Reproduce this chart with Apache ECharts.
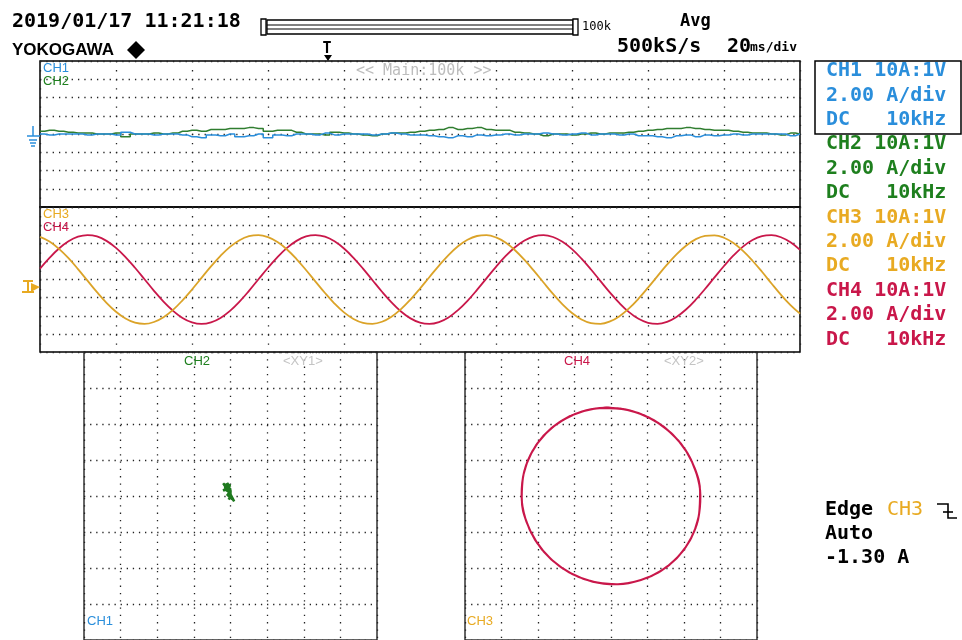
<!DOCTYPE html>
<html><head><meta charset="utf-8">
<script src="https://cdn.jsdelivr.net/npm/echarts@6/dist/echarts.min.js"></script>
<style>html,body{margin:0;padding:0;background:#fff}#c{width:962px;height:640px}</style>
</head><body><div id="c"></div>
<script>
// time axis (ms), 20 ms/div, 10 div
const timeMs = [0,2.5,5,7.5,10,12.5,15,17.5,20,22.5,25,27.5,30,32.5,35,37.5,40,42.5,45,47.5,50,52.5,55,57.5,60,62.5,65,67.5,70,72.5,75,77.5,80,82.5,85,87.5,90,92.5,95,97.5,100,102.5,105,107.5,110,112.5,115,117.5,120,122.5,125,127.5,130,132.5,135,137.5,140,142.5,145,147.5,150,152.5,155,157.5,160,162.5,165,167.5,170,172.5,175,177.5,180,182.5,185,187.5,190,192.5,195,197.5,200];
// channel currents (A)
const ch1A = [0.0,-0.1,0.0,0.0,0.0,-0.1,0.0,0.0,-0.1,0.2,0.0,0.0,-0.1,0.0,0.0,-0.1,-0.3,-0.4,-0.1,-0.2,0.0,-0.3,-0.2,0.0,-0.4,-0.1,-0.2,0.0,0.0,-0.1,0.1,-0.1,0.0,0.0,0.0,-0.1,0.0,0.1,0.0,-0.1,-0.1,-0.2,-0.3,-0.4,-0.2,-0.3,-0.1,-0.2,-0.1,0.0,-0.1,0.0,0.0,0.1,0.0,-0.1,0.0,0.1,-0.1,0.0,0.0,-0.1,0.0,-0.2,-0.2,-0.3,-0.4,-0.2,-0.1,-0.3,-0.1,-0.2,-0.1,0.0,-0.1,0.0,0.0,0.0,0.0,-0.2,0.0];
const ch2A = [0.3,0.4,0.3,0.2,0.1,0.1,0.0,0.0,0.1,-0.3,0.0,0.0,0.1,0.0,0.1,0.3,0.4,0.3,0.5,0.5,0.6,0.6,0.7,0.6,0.3,0.4,0.4,0.2,0.0,0.0,-0.1,0.2,0.1,0.0,-0.1,-0.2,0.0,0.1,0.1,0.2,0.3,0.4,0.5,0.7,0.5,0.6,0.7,0.5,0.4,0.4,0.2,0.1,0.0,-0.2,0.0,0.0,-0.1,0.0,0.1,0.0,0.1,0.1,0.2,0.3,0.4,0.5,0.6,0.6,0.7,0.6,0.5,0.4,0.4,0.3,0.2,0.1,0.1,0.0,-0.1,0.1,0.0];
const ch3A = [4.70,4.19,3.38,2.35,1.15,-0.13,-1.40,-2.57,-3.56,-4.31,-4.77,-4.90,-4.69,-4.16,-3.35,-2.30,-1.10,0.18,1.44,2.61,3.60,4.34,4.78,4.90,4.67,4.13,3.31,2.26,1.05,-0.23,-1.49,-2.65,-3.63,-4.36,-4.79,-4.89,-4.66,-4.10,-3.27,-2.21,-1.00,0.28,1.54,2.70,3.67,4.39,4.80,4.89,4.64,4.08,3.23,2.16,0.95,-0.33,-1.59,-2.74,-3.70,-4.41,-4.81,-4.89,-4.63,-4.05,-3.19,-2.12,-0.90,0.38,1.64,2.78,3.73,4.43,4.82,4.88,4.61,4.02,3.15,2.07,0.85,-0.44,-1.69,-2.82,-3.77];
const ch4A = [1.20,2.39,3.42,4.21,4.72,4.90,4.75,4.26,3.49,2.48,1.30,0.03,-1.25,-2.44,-3.45,-4.24,-4.73,-4.90,-4.73,-4.24,-3.46,-2.44,-1.25,0.03,1.30,2.48,3.49,4.26,4.75,4.90,4.72,4.21,3.42,2.39,1.20,-0.08,-1.35,-2.52,-3.53,-4.29,-4.76,-4.90,-4.70,-4.19,-3.38,-2.35,-1.15,0.13,1.40,2.57,3.56,4.31,4.77,4.90,4.69,4.16,3.35,2.30,1.10,-0.18,-1.44,-2.61,-3.60,-4.34,-4.78,-4.90,-4.67,-4.13,-3.31,-2.26,-1.05,0.23,1.49,2.65,3.63,4.36,4.79,4.89,4.66,4.10,3.27];

const chNames = ['CH1','CH2','CH3','CH4'];
const chSetup = ['10A:1V','2.00 A/div','DC   10kHz'];
const headerDate = '2019/01/17 11:21:18';
const triggerLines = ['Edge','CH3','Auto','-1.30 A'];

const C1='#2a8edb', C2='#1e7f1e', C3='#e8aa22', C4='#c9174a';
const chColors=[C1,C2,C3,C4];
const MONO='"DejaVu Sans Mono", monospace';
const SANS='"Liberation Sans", Arial, sans-serif';

const chart = echarts.init(document.getElementById('c'), null, {renderer:'canvas'});

function axis(type, gi, min, max, interval, dash){
  return {type:'value', gridIndex:gi, min, max, interval,
    axisLine:{show:false}, axisTick:{show:false}, axisLabel:{show:false},
    splitLine:{show:true, lineStyle:{color:'#222', width:1.3, type:dash}}};
}
const xAxes=[axis('x',0,0,200,20,[1.3,7.8]), axis('x',1,0,200,20,[1.3,7.8]),
             axis('x',2,-8,8,2,[1.3,6.0]), axis('x',3,-8,8,2,[1.3,6.0])];
const yAxes=[axis('y',0,-8,8,2,[1.3,5.03]), axis('y',1,-8,8,2,[1.3,5.03]),
             axis('y',2,-8,8,2,[1.3,4.8]), axis('y',3,-8,8,2,[1.3,4.8])];

const pair=(xs,ys)=>xs.map((x,i)=>[x,ys[i]]);

function txt(x,y,text,fill,font,align){
  return {type:'text', z:100, style:{x, y, text, fill, font, align:align||'left', verticalAlign:'middle', textAlign:align||'left', textVerticalAlign:'middle'}};
}
const g=[];
const BIG='bold 20px '+MONO;
g.push(txt(12,22,headerDate,'#000',BIG));
g.push(txt(12,50,'YOKOGAWA','#000','bold 17px '+SANS));
g.push({type:'polygon', shape:{points:[[136,41],[145,50],[136,59],[127,50]]}, style:{fill:'#000'}});
// record length bar
g.push({type:'rect', shape:{x:261,y:19,width:5,height:16}, style:{fill:'#fff',stroke:'#000',lineWidth:1.3}});
g.push({type:'rect', shape:{x:267,y:20,width:306,height:14}, style:{fill:'#fff',stroke:'#000',lineWidth:1.3}});
g.push({type:'line', shape:{x1:267,y1:25,x2:573,y2:25}, style:{stroke:'#000',lineWidth:1.2}});
g.push({type:'line', shape:{x1:267,y1:29,x2:573,y2:29}, style:{stroke:'#000',lineWidth:1.2}});
g.push({type:'rect', shape:{x:573,y:19,width:5,height:16}, style:{fill:'#fff',stroke:'#000',lineWidth:1.3}});
g.push(txt(582,27,'100k','#000','12px '+MONO));
g.push(txt(680,22,'Avg','#000','bold 17px '+MONO));
g.push(txt(617,47,'500kS/s','#000',BIG));
g.push(txt(727,47,'20','#000',BIG));
g.push(txt(750,48,'ms/div','#000','bold 13px '+MONO));
// trigger position marker
g.push(txt(327,49,'T','#000','bold 15px '+MONO,'center'));
g.push({type:'polygon', shape:{points:[[324,55],[332,55],[328,61]]}, style:{fill:'#000'}});
// in-panel labels
g.push(txt(356,71,'<< Main:100k >>','#bdbdbd','15px '+MONO));
g.push(txt(43,68,'CH1',C1,'13px '+SANS));
g.push(txt(43,81,'CH2',C2,'13px '+SANS));
g.push(txt(43,214,'CH3',C3,'13px '+SANS));
g.push(txt(43,227,'CH4',C4,'13px '+SANS));
// ground markers
g.push({type:'polyline', shape:{points:[[33,126],[33,136]]}, style:{stroke:C1,lineWidth:1.5,fill:null}});
g.push({type:'line', shape:{x1:27,y1:136,x2:40,y2:136}, style:{stroke:C1,lineWidth:1.5}});
g.push({type:'line', shape:{x1:29,y1:140,x2:37,y2:140}, style:{stroke:C1,lineWidth:1.5}});
g.push({type:'line', shape:{x1:30,y1:143,x2:36,y2:143}, style:{stroke:C1,lineWidth:1.5}});
g.push({type:'line', shape:{x1:31,y1:146,x2:35,y2:146}, style:{stroke:C1,lineWidth:1.5}});
g.push({type:'line', shape:{x1:23,y1:281,x2:33,y2:281}, style:{stroke:C3,lineWidth:2}});
g.push({type:'line', shape:{x1:28,y1:281,x2:28,y2:292}, style:{stroke:C3,lineWidth:2}});
g.push({type:'line', shape:{x1:22,y1:292,x2:34,y2:292}, style:{stroke:C3,lineWidth:2}});
g.push({type:'polygon', shape:{points:[[31,283],[40,287],[31,292]]}, style:{fill:C3}});
// XY labels
g.push(txt(184,361,'CH2',C2,'13px '+SANS));
g.push(txt(283,361,'<XY1>','#c4c4c4','13px '+SANS));
g.push(txt(87,621,'CH1',C1,'13px '+SANS));
g.push(txt(564,361,'CH4',C4,'13px '+SANS));
g.push(txt(664,361,'<XY2>','#c4c4c4','13px '+SANS));
g.push(txt(467,621,'CH3',C3,'13px '+SANS));
// channel setup panel
g.push({type:'rect', shape:{x:815,y:61,width:146,height:73}, style:{fill:null,stroke:'#000',lineWidth:1.5}});
chNames.forEach((n,i)=>{
  const y0=71+i*73.2;
  g.push(txt(826,y0,n+' '+chSetup[0],chColors[i],BIG));
  g.push(txt(826,y0+24.4,chSetup[1],chColors[i],BIG));
  g.push(txt(826,y0+48.8,chSetup[2],chColors[i],BIG));
});
// trigger info
g.push(txt(825,510,triggerLines[0],'#000',BIG));
g.push(txt(887,510,triggerLines[1],C3,'20px '+MONO));
g.push({type:'polyline', shape:{points:[[937,504],[948,504],[948,518],[957,518]]}, style:{stroke:'#000',lineWidth:1.6,fill:null}});
g.push({type:'line', shape:{x1:943,y1:512,x2:953,y2:512}, style:{stroke:'#000',lineWidth:1.6}});
g.push(txt(825,534,triggerLines[2],'#000',BIG));
g.push(txt(825,558,triggerLines[3],'#000',BIG));

const lineS=(xi,data,color,w,extra)=>Object.assign({type:'line', xAxisIndex:xi, yAxisIndex:xi, data, showSymbol:false, symbol:'none', lineStyle:{color,width:w}, itemStyle:{color}, animation:false}, extra||{});

chart.setOption({
  animation:false,
  backgroundColor:'#fff',
  grid:[
    {left:40, top:61, width:760, height:146, show:true, borderColor:'#000', borderWidth:1.5, backgroundColor:'transparent'},
    {left:40, top:207, width:760, height:145, show:true, borderColor:'#000', borderWidth:1.5, backgroundColor:'transparent'},
    {left:84, top:352, width:293, height:293, show:true, borderColor:'#333', borderWidth:1.5, backgroundColor:'transparent'},
    {left:465, top:352, width:292, height:292, show:true, borderColor:'#333', borderWidth:1.5, backgroundColor:'transparent'}
  ],
  xAxis:xAxes, yAxis:yAxes,
  series:[
    lineS(0,pair(timeMs,ch2A),'#2f7d2f',1.5,{step:'middle'}),
    lineS(0,pair(timeMs,ch1A),C1,1.5,{step:'middle'}),
    lineS(1,pair(timeMs,ch4A),C4,1.8,{smooth:0.4}),
    lineS(1,pair(timeMs,ch3A),'#dba328',1.8,{smooth:0.4}),
    lineS(2,pair(ch1A,ch2A),'#1f7a1f',2.5,{}),
    lineS(3,pair(ch3A,ch4A),C4,2,{smooth:0.4})
  ],
  graphic:g
});
</script></body></html>
